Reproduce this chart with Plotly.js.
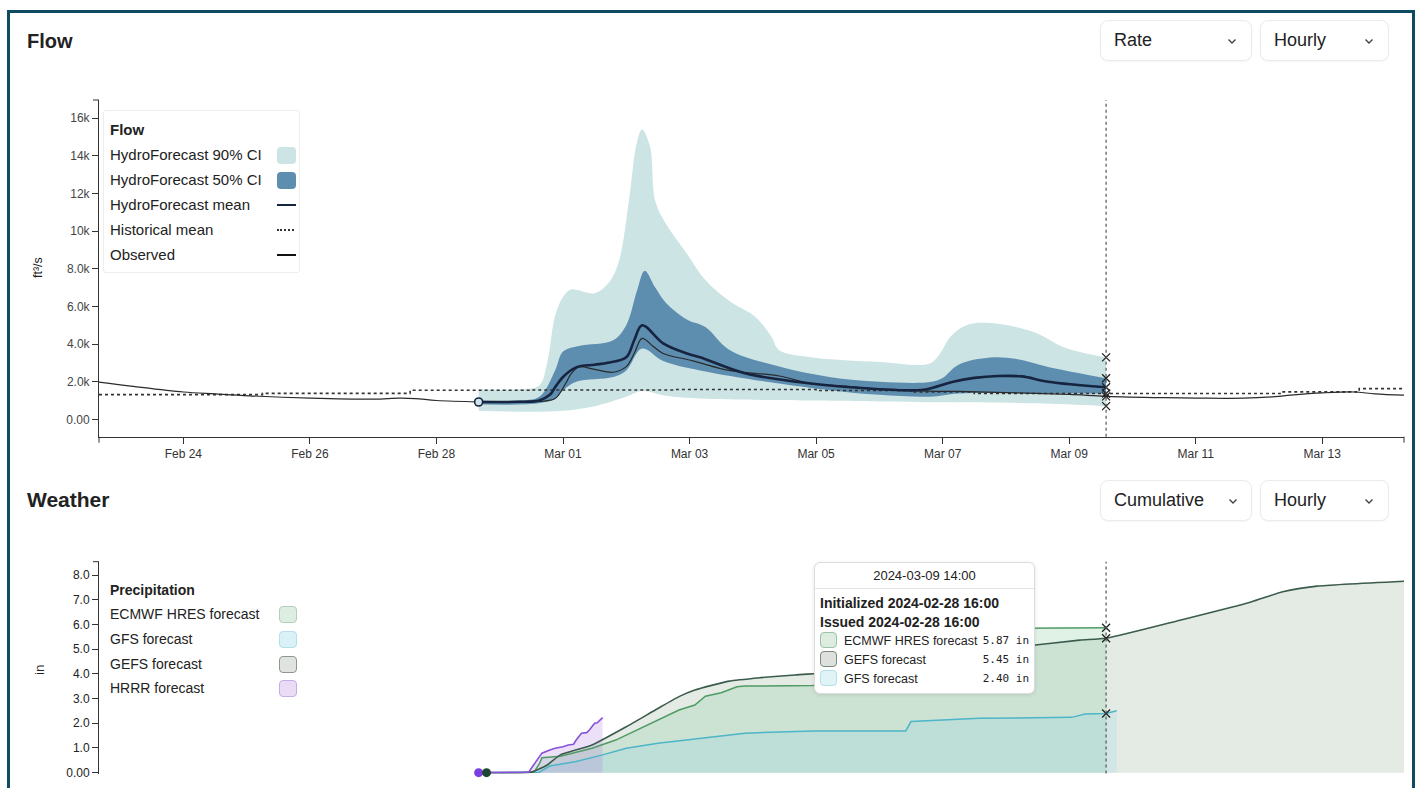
<!DOCTYPE html>
<html><head><meta charset="utf-8">
<script src="https://cdn.plot.ly/plotly-3.0.1.min.js"></script>
<style>
html,body{margin:0;padding:0;background:#fff;width:1419px;height:788px;overflow:hidden;font-family:"Liberation Sans",Arial,sans-serif;color:#222}
#frame{position:absolute;left:7px;top:10px;width:1408px;height:800px;box-sizing:border-box;border:3px solid #0e4b61;border-bottom:none;pointer-events:none;z-index:5}
#chart{position:absolute;left:0;top:0;width:1419px;height:788px}
.title{position:absolute;left:27px;font-weight:bold;font-size:20px;line-height:24px;z-index:3}
.dd{position:absolute;height:41px;box-sizing:border-box;border:1px solid #ebebeb;border-radius:8px;background:#fff;font-size:18px;line-height:39px;padding-left:13px;color:#222;box-shadow:0 1px 2px rgba(0,0,0,0.04);z-index:3}
.dd svg{position:absolute;top:17px}
.lg{position:absolute;z-index:3}
.lgrow{position:absolute;left:0;height:20px;line-height:20px;white-space:nowrap}
.tip{position:absolute;left:814px;top:562px;width:221px;height:132px;box-sizing:border-box;border:1px solid #dcdcdc;border-radius:6px;background:#fff;box-shadow:0 1px 4px rgba(0,0,0,0.10);z-index:4;font-size:12.5px}
.tip .hd{position:absolute;left:0;top:0;width:100%;height:25px;line-height:25px;text-align:center;border-bottom:1px solid #e2e2e2;font-size:13px}
.tip .b{position:absolute;left:5px;font-weight:bold;font-size:14px;line-height:18px;white-space:nowrap}
.tip .row{position:absolute;left:0;width:100%;height:20px;line-height:20px}
.tip .sw{position:absolute;left:5px;top:1px;width:17px;height:16px;border-radius:4px;box-sizing:border-box;border:1.5px solid #999}
.tip .lab{position:absolute;left:29px}
.tip .val{position:absolute;right:5px;font-family:"DejaVu Sans Mono",monospace;font-size:11px}
</style>
</head>
<body>
<div id="chart"></div>
<div id="frame"></div>
<div class="title" style="top:29px">Flow</div>
<div class="title" style="top:488px;font-size:21px">Weather</div>
<div id="overlay"></div>
<script>
// ---------------- DATA ----------------
const initTime = '2024-02-28 16:00';
const hoverTime = '2024-03-09 14:00';
const xStart = '2024-02-22 16:00';
const xEnd = '2024-03-14 07:00';

const flowTickDates = ['2024-02-24','2024-02-26','2024-02-28','2024-03-01','2024-03-03','2024-03-05','2024-03-07','2024-03-09','2024-03-11','2024-03-13'];
const flowTickLabels = ['Feb 24','Feb 26','Feb 28','Mar 01','Mar 03','Mar 05','Mar 07','Mar 09','Mar 11','Mar 13'];
const flowYTicks = [0,2000,4000,6000,8000,10000,12000,14000,16000];
const flowYLabels = ['0.00','2.0k','4.0k','6.0k','8.0k','10k','12k','14k','16k'];
const precipYTicks = [0,1,2,3,4,5,6,7,8];
const precipYLabels = ['0.00','1.0','2.0','3.0','4.0','5.0','6.0','7.0','8.0'];

const observedTimes = ['2024-02-22 16:00','2024-02-23 05:00','2024-02-24 00:00','2024-02-24 12:00','2024-02-25 01:00','2024-02-26 00:00','2024-02-27 00:00','2024-02-27 10:00','2024-02-27 16:00','2024-02-28 00:00','2024-02-28 16:00','2024-02-29 00:00','2024-02-29 15:00','2024-02-29 21:00','2024-03-01 01:00','2024-03-01 03:00','2024-03-01 06:00','2024-03-01 12:00','2024-03-01 19:00','2024-03-02 00:00','2024-03-02 03:00','2024-03-02 06:00','2024-03-02 10:00','2024-03-02 14:00','2024-03-03 00:00','2024-03-03 04:00','2024-03-03 15:00','2024-03-04 10:00','2024-03-04 22:00','2024-03-05 12:00','2024-03-06 00:00','2024-03-06 19:00','2024-03-07 06:00','2024-03-08 00:00','2024-03-09 00:00','2024-03-09 14:00','2024-03-10 12:00','2024-03-11 00:00','2024-03-11 18:00','2024-03-12 06:00','2024-03-12 12:00','2024-03-13 00:00','2024-03-13 12:00','2024-03-13 20:00','2024-03-14 07:00'];
const observedVals = [1980,1750,1450,1350,1250,1130,1070,1120,1100,1000,930,920,950,1100,1900,2400,2780,2650,2500,2800,3500,4300,3900,3500,3150,3000,2600,2300,1900,1750,1600,1500,1480,1420,1320,1220,1150,1130,1120,1200,1280,1400,1450,1350,1280];

const histTimes = ['2024-02-22 16:00','2024-02-25 06:00','2024-02-27 14:00','2024-02-29 12:00','2024-03-02 18:00','2024-03-05 00:00','2024-03-06 12:00','2024-03-07 12:00','2024-03-12 08:00','2024-03-13 14:00','2024-03-14 07:00'];
const histVals = [1310,1380,1540,1560,1580,1530,1450,1370,1460,1630,1630];

const meanTimes = ['2024-02-28 16:00','2024-02-29 07:00','2024-02-29 15:00','2024-02-29 19:00','2024-02-29 21:00','2024-03-01 00:00','2024-03-01 05:00','2024-03-01 12:00','2024-03-01 17:00','2024-03-02 00:00','2024-03-02 03:00','2024-03-02 06:00','2024-03-02 14:00','2024-03-02 23:00','2024-03-03 04:00','2024-03-03 21:00','2024-03-04 22:00','2024-03-06 00:00','2024-03-06 16:00','2024-03-06 22:00','2024-03-07 04:00','2024-03-07 12:00','2024-03-07 21:00','2024-03-08 06:00','2024-03-08 16:00','2024-03-09 14:00'];
const meanVals = [920,930,1000,1300,1700,2250,2760,2900,3000,3300,4200,5000,4040,3500,3300,2450,1900,1600,1560,1750,2000,2200,2300,2280,2000,1700];

const upper50Times = ['2024-02-28 16:00','2024-02-29 07:00','2024-02-29 15:00','2024-02-29 21:00','2024-03-01 00:00','2024-03-01 06:00','2024-03-01 19:00','2024-03-02 00:00','2024-03-02 04:00','2024-03-02 07:00','2024-03-02 11:00','2024-03-02 15:00','2024-03-02 23:00','2024-03-03 06:00','2024-03-03 15:00','2024-03-04 10:00','2024-03-05 05:00','2024-03-06 00:00','2024-03-06 19:00','2024-03-07 00:00','2024-03-07 06:00','2024-03-07 18:00','2024-03-08 04:00','2024-03-08 16:00','2024-03-09 14:00'];
const upper50 = [1000,1000,1200,2600,3600,3900,4200,5000,6800,7900,7000,6200,5300,4900,3700,2800,2250,2000,1980,2200,2900,3280,3200,2780,2180];

const lower50Times = ['2024-02-28 16:00','2024-02-29 15:00','2024-02-29 21:00','2024-03-01 00:00','2024-03-01 05:00','2024-03-01 19:00','2024-03-02 00:00','2024-03-02 06:00','2024-03-02 14:00','2024-03-03 04:00','2024-03-04 10:00','2024-03-05 05:00','2024-03-06 00:00','2024-03-06 19:00','2024-03-07 06:00','2024-03-08 04:00','2024-03-09 14:00'];
const lower50 = [800,850,1100,1540,2000,2250,2600,3760,3100,2600,1900,1550,1300,1200,1370,1400,1370];

const upper90Times = ['2024-02-28 16:00','2024-02-29 07:00','2024-02-29 15:00','2024-02-29 18:00','2024-02-29 21:00','2024-03-01 00:00','2024-03-01 03:00','2024-03-01 12:00','2024-03-01 17:00','2024-03-01 21:00','2024-03-02 01:00','2024-03-02 04:00','2024-03-02 06:00','2024-03-02 09:00','2024-03-02 11:00','2024-03-02 15:00','2024-03-02 23:00','2024-03-03 06:00','2024-03-03 15:00','2024-03-04 01:00','2024-03-04 07:00','2024-03-04 10:00','2024-03-04 22:00','2024-03-06 00:00','2024-03-06 19:00','2024-03-06 23:00','2024-03-07 03:00','2024-03-07 09:00','2024-03-07 18:00','2024-03-08 10:00','2024-03-08 23:00','2024-03-09 14:00'];
const upper90 = [1600,1600,1800,3000,5500,6500,6900,6700,7200,8300,11600,14700,15400,14500,11600,10400,8800,7400,6300,5440,4400,3670,3300,3050,2960,3500,4400,5000,5120,4660,3770,3290];

const lower90Times = ['2024-02-28 16:00','2024-02-29 12:00','2024-03-01 00:00','2024-03-01 12:00','2024-03-02 00:00','2024-03-02 06:00','2024-03-02 15:00','2024-03-03 04:00','2024-03-05 00:00','2024-03-06 00:00','2024-03-07 00:00','2024-03-08 12:00','2024-03-09 14:00'];
const lower90 = [450,400,450,700,1200,1500,1250,1100,1000,950,900,850,700];

const gefsTimes = ['2024-02-28 19:00','2024-02-29 12:00','2024-02-29 18:00','2024-02-29 23:00','2024-03-01 11:00','2024-03-02 00:00','2024-03-02 12:00','2024-03-02 20:00','2024-03-03 02:00','2024-03-03 15:00','2024-03-04 03:00','2024-03-04 16:00','2024-03-05 09:00','2024-03-06 15:00','2024-03-07 14:00','2024-03-08 05:00','2024-03-09 04:00','2024-03-09 14:00','2024-03-10 18:00','2024-03-11 21:00','2024-03-12 09:00','2024-03-12 22:00','2024-03-14 07:00'];
const gefs = [0,0.02,0.31,0.72,1.12,1.86,2.6,3.08,3.35,3.71,3.85,3.96,4.08,4.55,4.9,5.1,5.37,5.45,6.18,6.92,7.33,7.56,7.76];

const ecmwfTimes = ['2024-02-28 19:00','2024-02-29 13:00','2024-02-29 15:00','2024-02-29 16:00','2024-02-29 23:00','2024-03-01 11:00','2024-03-01 20:00','2024-03-02 12:00','2024-03-02 20:00','2024-03-03 02:00','2024-03-03 06:00','2024-03-03 12:00','2024-03-03 18:00','2024-03-03 21:00','2024-03-04 23:00','2024-03-05 12:00','2024-03-06 00:00','2024-03-06 18:00','2024-03-07 12:00','2024-03-08 05:00','2024-03-09 14:00'];
const ecmwf = [0,0.02,0.35,0.6,0.66,0.99,1.32,2.13,2.54,2.74,3.1,3.24,3.48,3.51,3.53,4.2,5.0,5.6,5.82,5.85,5.87];

const gfsTimes = ['2024-02-28 19:00','2024-02-29 15:00','2024-02-29 19:00','2024-03-01 05:00','2024-03-01 15:00','2024-03-02 00:00','2024-03-02 12:00','2024-03-03 00:00','2024-03-03 21:00','2024-03-04 23:00','2024-03-06 10:00','2024-03-06 12:00','2024-03-07 14:00','2024-03-09 01:00','2024-03-09 06:00','2024-03-09 14:00','2024-03-09 18:00'];
const gfs = [0,0.02,0.27,0.45,0.72,0.99,1.19,1.35,1.6,1.69,1.69,2.07,2.2,2.24,2.38,2.40,2.51];

const hrrrTimes = ['2024-02-28 16:00','2024-02-29 11:00','2024-02-29 12:00','2024-02-29 14:00','2024-02-29 16:00','2024-02-29 19:00','2024-02-29 21:00','2024-03-01 00:00','2024-03-01 02:00','2024-03-01 04:00','2024-03-01 05:00','2024-03-01 07:00','2024-03-01 09:00','2024-03-01 10:00','2024-03-01 12:00','2024-03-01 13:00','2024-03-01 15:00'];
const hrrr = [0,0.02,0.18,0.51,0.79,0.92,0.99,1.05,1.12,1.15,1.32,1.6,1.62,1.73,2.0,2.02,2.23];

const flowLegendTitle = 'Flow';
const flowLegendLabels = ['HydroForecast 90% CI','HydroForecast 50% CI','HydroForecast mean','Historical mean','Observed'];
const precipLegendTitle = 'Precipitation';
const precipLegendLabels = ['ECMWF HRES forecast','GFS forecast','GEFS forecast','HRRR forecast'];

// ---------------- STYLE ----------------
const W = 1419, H = 788;
const fx = p => p / W;
const fy = p => 1 - p / H;
const col = {
  band90:'#cde4e5', band50:'#5d8daf', mean:'#17243f', obs:'#2a2a2a', hist:'#333',
  gefsLine:'#3b5c4c', gefsFill:'rgba(165,188,170,0.30)',
  ecmwfLine:'#4f9b64', ecmwfFill:'rgba(145,205,165,0.28)',
  gfsLine:'#4db5c8', gfsFill:'rgba(140,215,232,0.22)',
  hrrrLine:'#8752d8', hrrrFill:'rgba(175,125,232,0.24)'
};

function valueAt(times, vals, t) {
  const i = times.indexOf(t);
  if (i >= 0) return vals[i];
  const tt = new Date(t.replace(' ', 'T')).getTime();
  for (let k = 1; k < times.length; k++) {
    const a = new Date(times[k-1].replace(' ','T')).getTime(), b = new Date(times[k].replace(' ','T')).getTime();
    if (tt >= a && tt <= b) return vals[k-1] + (vals[k]-vals[k-1])*(tt-a)/(b-a);
  }
  return vals[vals.length-1];
}

const sp = {shape:'spline', smoothing:1.0};
const traces = [
  {x:lower90Times, y:lower90, mode:'lines', line:Object.assign({width:0}, sp), hoverinfo:'skip'},
  {x:upper90Times, y:upper90, mode:'lines', fill:'tonexty', fillcolor:col.band90, line:Object.assign({width:0}, sp), hoverinfo:'skip'},
  {x:lower50Times, y:lower50, mode:'lines', line:Object.assign({width:0}, sp), hoverinfo:'skip'},
  {x:upper50Times, y:upper50, mode:'lines', fill:'tonexty', fillcolor:col.band50, line:Object.assign({width:0}, sp), hoverinfo:'skip'},
  {x:histTimes, y:histVals, mode:'lines', line:{color:col.hist, width:1.6, dash:'dot', shape:'hv'}},
  {x:observedTimes, y:observedVals, mode:'lines', line:Object.assign({color:col.obs, width:1.2}, sp)},
  {x:meanTimes, y:meanVals, mode:'lines', line:Object.assign({color:col.mean, width:2.6}, sp)},
  {x:[meanTimes[0]], y:[meanVals[0]], mode:'markers', marker:{symbol:'circle', size:8, color:'#cfe3ea', line:{color:col.mean, width:1.6}}, cliponaxis:false},
  {x:[hoverTime,hoverTime,hoverTime,hoverTime,hoverTime,hoverTime],
   y:[valueAt(upper90Times,upper90,hoverTime), valueAt(upper50Times,upper50,hoverTime), valueAt(meanTimes,meanVals,hoverTime), valueAt(lower50Times,lower50,hoverTime), valueAt(observedTimes,observedVals,hoverTime), valueAt(lower90Times,lower90,hoverTime)],
   mode:'markers', marker:{symbol:'x-thin-open', size:8, color:'#222', line:{width:1.3, color:'#222'}}},
  // weather fills
  {x:gefsTimes, y:gefs, xaxis:'x2', yaxis:'y2', mode:'lines', fill:'tozeroy', fillcolor:col.gefsFill, line:{width:0}},
  {x:ecmwfTimes, y:ecmwf, xaxis:'x2', yaxis:'y2', mode:'lines', fill:'tozeroy', fillcolor:col.ecmwfFill, line:{width:0}},
  {x:gfsTimes, y:gfs, xaxis:'x2', yaxis:'y2', mode:'lines', fill:'tozeroy', fillcolor:col.gfsFill, line:{width:0}},
  {x:hrrrTimes, y:hrrr, xaxis:'x2', yaxis:'y2', mode:'lines', fill:'tozeroy', fillcolor:col.hrrrFill, line:{width:0}},
  // weather lines
  {x:gfsTimes, y:gfs, xaxis:'x2', yaxis:'y2', mode:'lines', line:{color:col.gfsLine, width:1.5}},
  {x:ecmwfTimes, y:ecmwf, xaxis:'x2', yaxis:'y2', mode:'lines', line:{color:col.ecmwfLine, width:1.5}},
  {x:gefsTimes, y:gefs, xaxis:'x2', yaxis:'y2', mode:'lines', line:{color:col.gefsLine, width:1.6, shape:'spline', smoothing:0.5}},
  {x:hrrrTimes, y:hrrr, xaxis:'x2', yaxis:'y2', mode:'lines', line:{color:col.hrrrLine, width:1.6}},
  {x:[hrrrTimes[0]], y:[hrrr[0]], xaxis:'x2', yaxis:'y2', mode:'markers', marker:{size:9, color:'#7a3fe0'}, cliponaxis:false},
  {x:[gefsTimes[0]], y:[gefs[0]], xaxis:'x2', yaxis:'y2', mode:'markers', marker:{size:9, color:'#1e4634'}, cliponaxis:false},
  {x:[hoverTime,hoverTime,hoverTime], y:[valueAt(ecmwfTimes,ecmwf,hoverTime), valueAt(gefsTimes,gefs,hoverTime), valueAt(gfsTimes,gfs,hoverTime)],
   xaxis:'x2', yaxis:'y2', mode:'markers', marker:{symbol:'x-thin-open', size:8, color:'#222', line:{width:1.3, color:'#222'}}}
];

const flowBot = 436.7, flowTop = 100, wBot = 773.5, wTop = 561.7;
const axisCommon = {showline:true, linecolor:'#333', linewidth:1, ticks:'outside', ticklen:6, tickcolor:'#333', tickwidth:1, showgrid:false, zeroline:false, fixedrange:true};
const layout = {
  width:W, height:H, margin:{l:0, r:0, t:0, b:0},
  paper_bgcolor:'rgba(0,0,0,0)', plot_bgcolor:'rgba(0,0,0,0)',
  showlegend:false, hovermode:false,
  font:{family:'"Liberation Sans", Arial, sans-serif', color:'#333'},
  xaxis:Object.assign({}, axisCommon, {domain:[fx(99), fx(1404)], type:'date', range:[xStart, xEnd], tickmode:'array', tickvals:flowTickDates, ticktext:flowTickLabels, tickfont:{size:12, color:'#333'}, anchor:'y'}),
  yaxis:Object.assign({}, axisCommon, {domain:[fy(flowBot), fy(flowTop)], range:[-925, 16970], tickmode:'array', tickvals:flowYTicks, ticktext:flowYLabels, tickfont:{size:12, color:'#444'}, anchor:'x'}),
  xaxis2:{domain:[fx(99), fx(1404)], type:'date', range:[xStart, xEnd], visible:false, anchor:'y2', fixedrange:true},
  yaxis2:Object.assign({}, axisCommon, {domain:[fy(wBot), fy(wTop)], range:[-0.035, 8.55], tickmode:'array', tickvals:precipYTicks, ticktext:precipYLabels, tickfont:{size:12, color:'#222'}, anchor:'x2'}),
  shapes:[
    {type:'line', xref:'x', yref:'paper', x0:hoverTime, x1:hoverTime, y0:fy(flowBot), y1:fy(flowTop), line:{color:'#555', width:1.2, dash:'dot'}},
    {type:'line', xref:'x', yref:'paper', x0:hoverTime, x1:hoverTime, y0:fy(wBot), y1:fy(wTop), line:{color:'#555', width:1.2, dash:'dot'}},
    {type:'line', xref:'paper', yref:'paper', x0:fx(93), x1:fx(99), y0:fy(flowTop), y1:fy(flowTop), line:{color:'#333', width:1}},
    {type:'line', xref:'paper', yref:'paper', x0:fx(93), x1:fx(99), y0:fy(wTop), y1:fy(wTop), line:{color:'#333', width:1}},
    {type:'line', xref:'paper', yref:'paper', x0:fx(99), x1:fx(99), y0:fy(flowBot), y1:fy(flowBot+6), line:{color:'#333', width:1}},
    {type:'line', xref:'paper', yref:'paper', x0:fx(1404), x1:fx(1404), y0:fy(flowBot), y1:fy(flowBot+6), line:{color:'#333', width:1}}
  ],
  annotations:[
    {text:'ft³/s', xref:'paper', yref:'paper', x:fx(38), y:fy(268), textangle:-90, showarrow:false, xanchor:'center', yanchor:'middle', font:{size:12.5, color:'#222'}},
    {text:'in', xref:'paper', yref:'paper', x:fx(39), y:fy(670), textangle:-90, showarrow:false, xanchor:'center', yanchor:'middle', font:{size:13.5, color:'#222'}}
  ]
};

Plotly.newPlot('chart', traces, layout, {displayModeBar:false, staticPlot:true});

// ---------------- OVERLAY (dropdowns, legends, tooltip) ----------------
const ov = document.getElementById('overlay');
function el(tag, style, html) { const e = document.createElement(tag); e.setAttribute('style', style); if (html !== undefined) e.innerHTML = html; return e; }
const chevron = '<svg width="10" height="7" viewBox="0 0 10 7"><polyline points="1.5,1.5 5,5 8.5,1.5" fill="none" stroke="#444" stroke-width="1.4"/></svg>';
function dropdown(label, left, top, width, chevX) {
  const d = el('div', 'left:'+left+'px;top:'+top+'px;width:'+width+'px');
  d.className = 'dd';
  d.innerHTML = label + chevron.replace('<svg', '<svg style="left:'+(chevX-left-5)+'px"');
  ov.appendChild(d);
}
dropdown('Rate', 1100, 20, 152, 1231);
dropdown('Hourly', 1260, 20, 129, 1368);
dropdown('Cumulative', 1100, 480, 152, 1232);
dropdown('Hourly', 1260, 480, 129, 1368);

// flow legend
const fl = el('div', 'left:103px;top:110px;width:197px;height:163px;border:1px solid #eeeeee;border-radius:3px;background:#fff;box-sizing:border-box');
fl.className = 'lg'; ov.appendChild(fl);
const flowRowsY = [155,180,204.5,229.5,254.5];
function addText(parent, x, cy, txt, extra) {
  const r = el('div', 'left:'+x+'px;top:'+(cy-10)+'px;' + (extra||''), txt);
  r.className = 'lgrow'; parent.appendChild(r); return r;
}
const holder = el('div', 'left:0;top:0;width:0;height:0'); holder.className='lg'; ov.appendChild(holder);
addText(holder, 110, 130, flowLegendTitle, 'font-weight:bold;font-size:15px');
const flowSymbols = [
  'width:19px;height:17px;border-radius:4px;background:'+col.band90+';margin-top:-8.5px',
  'width:19px;height:17px;border-radius:4px;background:'+col.band50+';margin-top:-8.5px',
  'width:19px;height:2.5px;background:'+col.mean+';margin-top:-1px',
  'width:17px;height:0;border-top:2px dotted #333;margin-top:-1px',
  'width:19px;height:2px;background:#111;margin-top:-1px'
];
flowLegendLabels.forEach((lab, i) => {
  addText(holder, 110, flowRowsY[i], lab, 'font-size:15px');
  const s = el('div', 'position:absolute;left:277px;top:'+flowRowsY[i]+'px;' + flowSymbols[i]);
  holder.appendChild(s);
});

// precipitation legend
const precipRowsY = [614,639,664,688];
const precipSw = [
  ['#deede2','#b3cfbb'],
  ['#daf2f7','#b2dfe9'],
  ['#e0e3e0','#8d978f'],
  ['#ebdcf6','#c6ace6']
];
addText(holder, 110, 590, precipLegendTitle, 'font-weight:bold;font-size:14px');
precipLegendLabels.forEach((lab, i) => {
  addText(holder, 110, precipRowsY[i], lab, 'font-size:14px');
  const s = el('div', 'position:absolute;left:279px;top:'+(precipRowsY[i]-8.5)+'px;width:18px;height:17px;box-sizing:border-box;border-radius:4px;background:'+precipSw[i][0]+';border:1.5px solid '+precipSw[i][1]);
  holder.appendChild(s);
});

// tooltip
const tip = el('div', ''); tip.className = 'tip'; ov.appendChild(tip);
const hd = el('div', '', hoverTime); hd.className = 'hd'; tip.appendChild(hd);
const b1 = el('div', 'top:31px', 'Initialized ' + initTime); b1.className = 'b'; tip.appendChild(b1);
const b2 = el('div', 'top:49.5px', 'Issued ' + initTime); b2.className = 'b'; tip.appendChild(b2);
const tipRows = [
  ['ECMWF HRES forecast', valueAt(ecmwfTimes, ecmwf, hoverTime), '#dcece0', '#9cc3a7'],
  ['GEFS forecast', valueAt(gefsTimes, gefs, hoverTime), '#dde0dd', '#7b8a80'],
  ['GFS forecast', valueAt(gfsTimes, gfs, hoverTime), '#e0f4f8', '#b3dfe9']
];
const tipRowY = [78, 97.3, 116.3];
tipRows.forEach((r, i) => {
  const row = el('div', 'top:'+(tipRowY[i]-10)+'px'); row.className = 'row';
  const sw = el('div', 'background:'+r[2]+';border-color:'+r[3]); sw.className = 'sw'; row.appendChild(sw);
  const lab = el('div', '', r[0]); lab.className = 'lab'; row.appendChild(lab);
  const v = el('div', '', r[1].toFixed(2) + ' in'); v.className = 'val'; row.appendChild(v);
  tip.appendChild(row);
});
</script>
</body></html>
